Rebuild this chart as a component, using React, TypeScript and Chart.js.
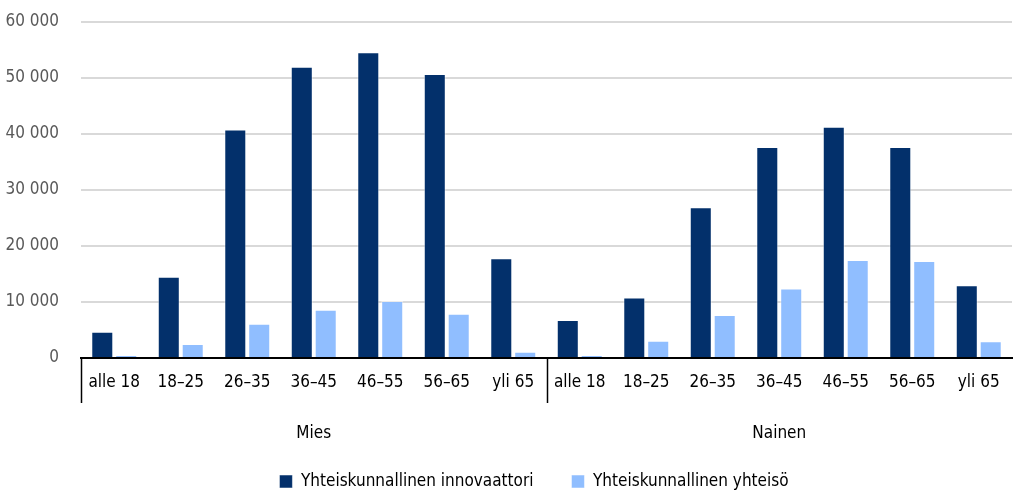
import React, { useEffect, useRef } from "react";
import { Chart, registerables } from "chart.js";

Chart.register(...registerables);

const ageGroups = ["alle 18", "18–25", "26–35", "36–45", "46–55", "56–65", "yli 65"];
const genders = ["Mies", "Nainen"];
const categories = [...ageGroups, ...ageGroups];
const innovaattori = [4700, 14500, 40800, 52000, 54600, 50700, 17800, 6800, 10800, 26900, 37700, 41300, 37700, 13000];
const yhteiso = [500, 2500, 6100, 8600, 10200, 7900, 1100, 500, 3100, 7700, 12400, 17500, 17300, 3000];
const seriesNames = ["Yhteiskunnallinen innovaattori", "Yhteiskunnallinen yhteisö"];
const yTicks = [0, 10000, 20000, 30000, 40000, 50000, 60000];

const FONT = "'DejaVu Sans Condensed', 'Liberation Sans Narrow', sans-serif";

const groupPlugin = {
  id: "groupPlugin",
  afterLayout(chart: any) {
    const lg = chart.legend;
    if (lg) {
      lg.left += 28;
      lg.right += 28;
    }
  },
  afterDraw(chart: any) {
    const { ctx, chartArea, scales } = chart;
    const x = scales.x;
    const base = chartArea.bottom;
    ctx.save();
    ctx.strokeStyle = "#000000";
    ctx.lineWidth = 1.5;
    const seps = [chartArea.left, (x.getPixelForValue(6) + x.getPixelForValue(7)) / 2];
    seps.forEach((sx: number) => {
      ctx.beginPath();
      ctx.moveTo(Math.round(sx) + 0.5, base);
      ctx.lineTo(Math.round(sx) + 0.5, base + 45);
      ctx.stroke();
    });
    ctx.fillStyle = "#000000";
    ctx.font = `17px ${FONT}`;
    ctx.textAlign = "center";
    ctx.textBaseline = "middle";
    genders.forEach((g, i) => {
      const cx = (x.getPixelForValue(i * 7) + x.getPixelForValue(i * 7 + 6)) / 2;
      ctx.fillText(g, cx, base + 76);
    });
    ctx.restore();
  },
};

export default function App() {
  const ref = useRef<HTMLCanvasElement | null>(null);
  useEffect(() => {
    if (!ref.current) return;
    const chart = new Chart(ref.current, {
      type: "bar",
      data: {
        labels: categories,
        datasets: [
          {
            label: seriesNames[0],
            data: innovaattori,
            backgroundColor: "#03306B",
            borderColor: "rgba(255,255,255,0.5)",
            borderWidth: 1,
            categoryPercentage: 0.72,
            barPercentage: 0.92,
          },
          {
            label: seriesNames[1],
            data: yhteiso,
            backgroundColor: "#90BEFF",
            borderColor: "rgba(255,255,255,0.5)",
            borderWidth: 1,
            categoryPercentage: 0.72,
            barPercentage: 0.92,
          },
        ],
      },
      options: {
        animation: false,
        responsive: true,
        maintainAspectRatio: false,
        layout: { padding: { top: 22, right: 4, bottom: 0, left: 0 } },
        plugins: {
          tooltip: { enabled: false },
          legend: {
            position: "bottom",
            labels: {
              boxWidth: 13,
              boxHeight: 13,
              padding: 38,
              color: "#000000",
              font: { family: FONT, size: 17 },
            },
          },
        },
        scales: {
          x: {
            grid: { display: false },
            border: { display: true, color: "#000000", width: 2 },
            ticks: {
              color: "#000000",
              font: { family: FONT, size: 17 },
              padding: 6,
              maxRotation: 0,
              autoSkip: false,
            },
            afterFit(scale: any) {
              scale.height = 77;
            },
          },
          y: {
            min: 0,
            max: 60000,
            afterBuildTicks(scale: any) {
              scale.ticks = yTicks.map((v) => ({ value: v }));
            },
            grid: { color: "#D9D9D9", lineWidth: 2, drawTicks: false },
            border: { display: false },
            ticks: {
              color: "#595959",
              font: { family: FONT, size: 17 },
              padding: 22,
              callback: (v: any) => String(v).replace(/\B(?=(\d{3})+(?!\d))/g, " "),
            },
            afterFit(scale: any) {
              scale.width = 81;
              scale.paddingTop = 0;
              scale.paddingBottom = 0;
            },
          },
        },
      },
      plugins: [groupPlugin],
    });
    return () => chart.destroy();
  }, []);
  return (
    <div style={{ position: "fixed", left: 0, top: 0, width: 1016, height: 494, overflow: "hidden", background: "#fff" }}>
      <div style={{ position: "relative", width: 1016, height: 500 }}>
        <canvas ref={ref} />
      </div>
    </div>
  );
}
